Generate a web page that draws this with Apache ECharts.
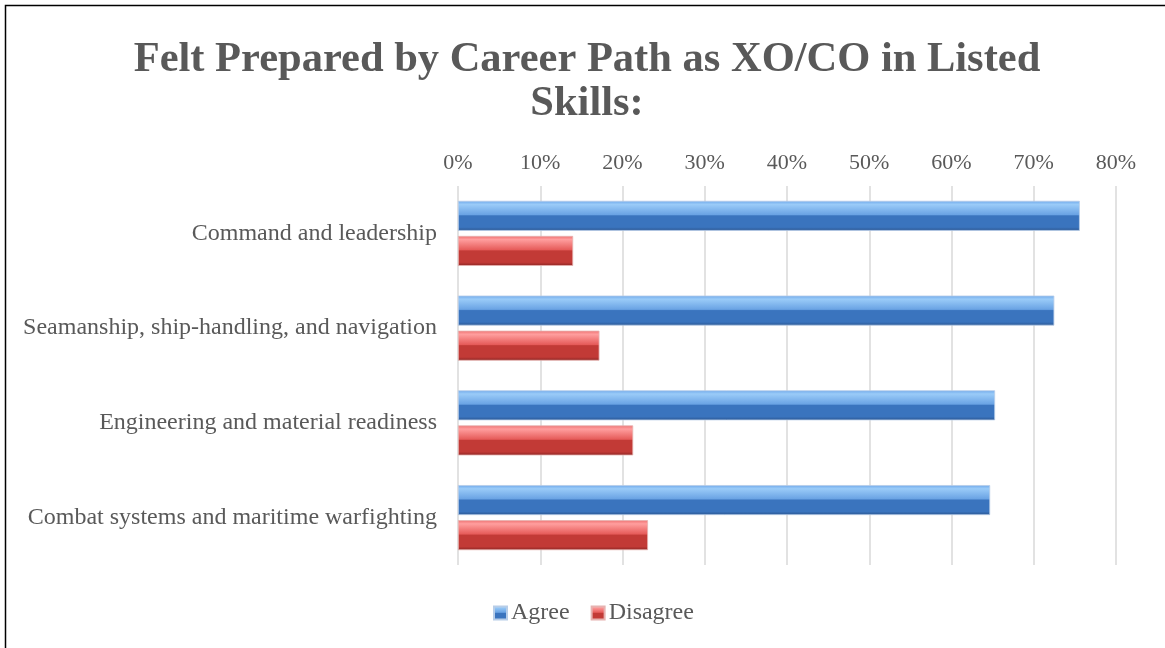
<!DOCTYPE html>
<html>
<head>
<meta charset="utf-8">
<script src="https://cdn.jsdelivr.net/npm/echarts@6/dist/echarts.min.js"></script>
<style>
html,body{margin:0;padding:0;background:#fff;}
#c{width:1165px;height:648px;}
</style>
</head>
<body>
<div id="c"></div>
<script>
const titleText = "Felt Prepared by Career Path as XO/CO in Listed\nSkills:";
const categories = [
  "Command and leadership",
  "Seamanship, ship-handling, and navigation",
  "Engineering and material readiness",
  "Combat systems and maritime warfighting"
];
const seriesNames = ["Agree", "Disagree"];
const agree = [0.756, 0.725, 0.653, 0.647];
const disagree = [0.140, 0.172, 0.213, 0.231];
const xTicks = [0, 0.8, 0.1];

const font = "'Liberation Serif', 'Times New Roman', serif";
function grad(c0, c1, c2, c3, c4) {
  return new echarts.graphic.LinearGradient(0, 0, 0, 1, [
    {offset: 0, color: c0},
    {offset: 0.12, color: c1},
    {offset: 0.46, color: c2},
    {offset: 0.5, color: c3},
    {offset: 0.88, color: c3},
    {offset: 1, color: c4}
  ]);
}
const blue = grad('#6FA8EA', '#9ACBF8', '#6AA3E4', '#3A74BE', '#2A5590');
const red = grad('#EE7070', '#FF9E9E', '#E65C5A', '#C23A36', '#8A2523');

const chart = echarts.init(document.getElementById('c'), null, {renderer: 'canvas'});
chart.setOption({
  backgroundColor: '#ffffff',
  animation: false,
  title: {
    text: titleText,
    left: 582,
    textAlign: 'center',
    top: 33,
    textStyle: {fontFamily: font, fontSize: 42.5, fontWeight: 'bold', color: '#595959', lineHeight: 44}
  },
  graphic: [{
    type: 'rect', left: 3, top: 3,
    shape: {width: 1170, height: 660},
    style: {fill: 'none', stroke: '#000', lineWidth: 1.5},
    silent: true
  }],
  legend: {
    data: seriesNames,
    bottom: 18,
    left: 488,
    itemWidth: 13, itemHeight: 13, itemGap: 21,
    icon: 'rect',
    textStyle: {fontFamily: font, fontSize: 24, color: '#595959', padding: [0,0,0,-1]}
  },
  grid: {left: 458, right: 49, top: 186, bottom: 83},
  xAxis: {
    type: 'value', position: 'top',
    min: xTicks[0], max: xTicks[1], interval: xTicks[2],
    axisLine: {show: false}, axisTick: {show: false},
    splitLine: {lineStyle: {color: '#D9D9D9', width: 1.5}},
    axisLabel: {fontFamily: font, fontSize: 22, color: '#595959', margin: 12,
      formatter: v => Math.round(v * 100) + '%'}
  },
  yAxis: {
    type: 'category', data: categories, inverse: true,
    axisLine: {show: false}, axisTick: {show: false},
    axisLabel: {fontFamily: font, fontSize: 24, color: '#595959', margin: 21}
  },
  series: [
    {name: seriesNames[0], type: 'bar', data: agree, barWidth: 30, barGap: '17%',
     itemStyle: {color: blue, borderColor: '#B7CDE8', borderWidth: 0.8}},
    {name: seriesNames[1], type: 'bar', data: disagree, barWidth: 30, barGap: '17%',
     itemStyle: {color: red, borderColor: '#E6B2B0', borderWidth: 0.8}}
  ]
});
</script>
</body>
</html>
